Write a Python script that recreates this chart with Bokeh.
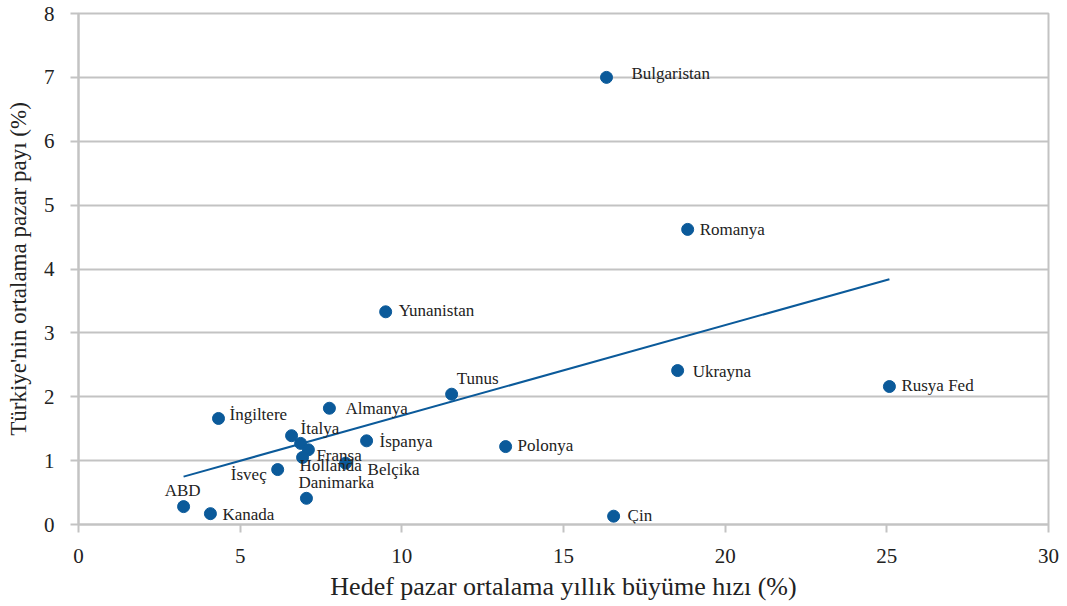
from bokeh.plotting import figure
from bokeh.models import ColumnDataSource, Range1d, FixedTicker
from bokeh.core.properties import value
from bokeh.embed import file_html
from bokeh.resources import INLINE

# ---- data ----
countries = ["Bulgaristan", "Romanya", "Yunanistan", "Ukrayna", "Rusya Fed", "Tunus",
             "Polonya", "İspanya", "Almanya", "İngiltere", "İtalya", "", "Fransa",
             "Hollanda", "Belçika", "İsveç", "Danimarka", "ABD", "Kanada", "Çin"]
growth = [16.33, 18.84, 9.50, 18.53, 25.08, 11.54, 13.21, 8.91, 7.76, 4.33, 6.59, 6.87,
          7.11, 6.93, 8.26, 6.16, 7.05, 3.25, 4.08, 16.55]
share = [7.00, 4.62, 3.33, 2.41, 2.16, 2.04, 1.22, 1.31, 1.82, 1.66, 1.39, 1.27,
         1.17, 1.05, 0.96, 0.86, 0.41, 0.28, 0.17, 0.13]
trend_x = [3.25, 25.08]
trend_y = [0.75, 3.84]
x_ticks = [0, 5, 10, 15, 20, 25, 30]
y_ticks = [0, 1, 2, 3, 4, 5, 6, 7, 8]

# ---- label placement (style, screen pixels) ----
label_style = {
    "Bulgaristan": (25, -4, "left"), "Romanya": (12, 0, "left"), "Yunanistan": (13, -1, "left"),
    "Ukrayna": (15, 1, "left"), "Rusya Fed": (12, -1, "left"), "Tunus": (5, -16, "left"),
    "Polonya": (12, -1, "left"), "İspanya": (13, 1, "left"), "Almanya": (16, 0, "left"),
    "İngiltere": (11, -4, "left"), "İtalya": (9, -7, "left"), "": (0, 0, "left"),
    "Fransa": (8, 6, "left"), "Hollanda": (-3, 8, "left"), "Belçika": (22, 6, "left"),
    "İsveç": (-11, 5, "right"), "Danimarka": (-8, -16, "left"), "ABD": (-1, -16, "center"),
    "Kanada": (12, 1, "left"), "Çin": (14, -1, "left"),
}

BLUE = "#0b5a9a"
GRAY = "#c3c3c3"
FONT = "Liberation Serif"

src = ColumnDataSource(dict(
    x=growth, y=share, name=countries,
    dx=[label_style[c][0] for c in countries],
    dy=[label_style[c][1] for c in countries],
    align=[label_style[c][2] for c in countries],
))

p = figure(width=1067, height=606, output_backend="svg", toolbar_location=None,
           x_range=Range1d(0, 30), y_range=Range1d(0, 8),
           min_border_left=78, min_border_right=19, min_border_top=13, min_border_bottom=82)

p.line(trend_x, trend_y, line_color=BLUE, line_width=2)
p.scatter("x", "y", source=src, size=12, fill_color=BLUE, line_color=BLUE)
p.text("x", "y", text="name", source=src, x_offset="dx", y_offset="dy", text_align="align",
       text_baseline="middle", text_font=value(FONT), text_font_size="17px", text_color="#222222")

p.outline_line_color = GRAY
p.outline_line_width = 2
p.xgrid.grid_line_color = None
p.ygrid.grid_line_color = GRAY
p.ygrid.grid_line_width = 2

p.xaxis.ticker = FixedTicker(ticks=x_ticks)
p.yaxis.ticker = FixedTicker(ticks=y_ticks)
for ax in (p.xaxis, p.yaxis):
    ax.axis_line_color = GRAY
    ax.axis_line_width = 2
    ax.major_tick_line_color = GRAY
    ax.major_tick_line_width = 2
    ax.major_tick_out = 8
    ax.major_tick_in = 0
    ax.minor_tick_line_color = None
    ax.major_label_text_font = FONT
    ax.major_label_text_font_size = "21px"
    ax.major_label_text_color = "#222222"
    ax.axis_label_text_font = FONT
    ax.axis_label_text_font_style = "normal"
    ax.axis_label_text_color = "#222222"

p.xaxis.axis_label = "Hedef pazar ortalama yıllık büyüme hızı (%)"
p.yaxis.axis_label = "Türkiye'nin ortalama pazar payı (%)"
p.xaxis.axis_label_text_font_size = "26px"
p.yaxis.axis_label_text_font_size = "23px"
p.xaxis.major_label_standoff = 16
p.xaxis.axis_label_standoff = 6
p.yaxis.major_label_standoff = 16
p.yaxis.axis_label_standoff = 10

open("out.html", "w").write(file_html(p, INLINE))
